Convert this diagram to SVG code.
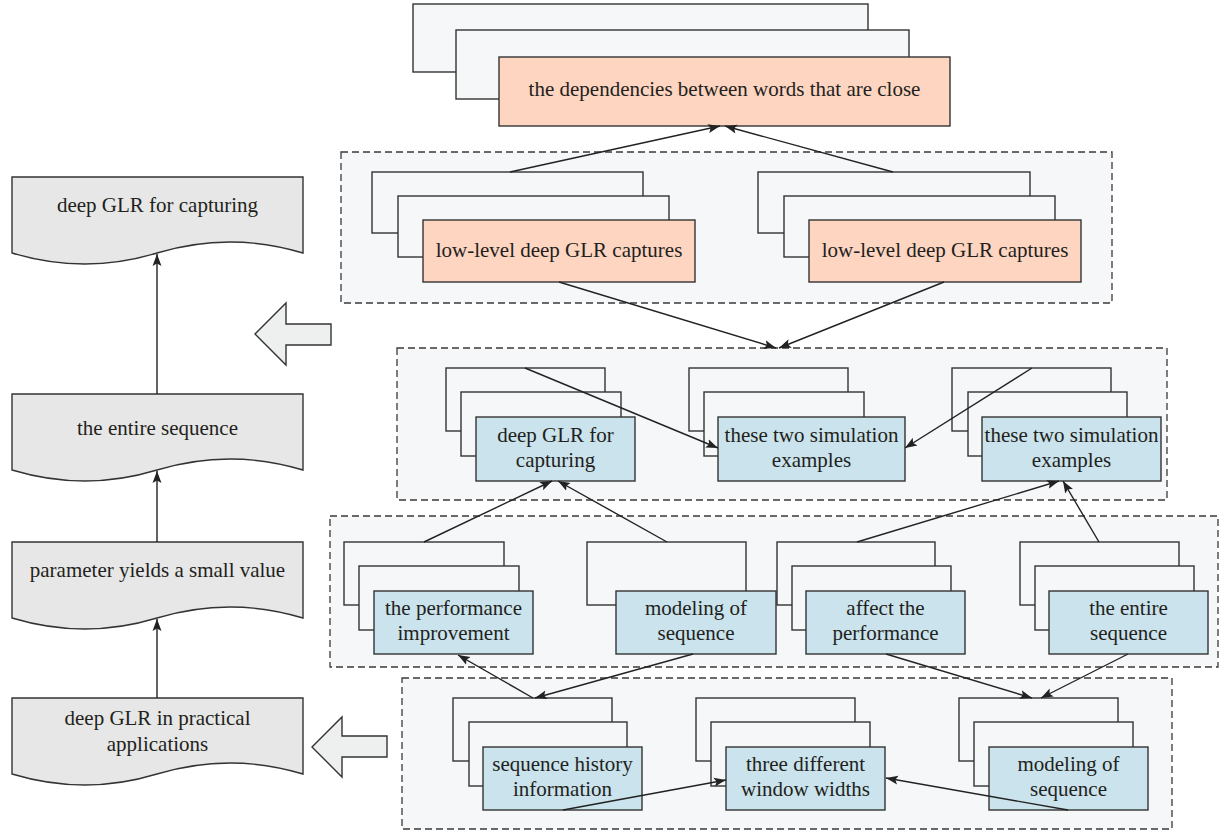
<svg xmlns="http://www.w3.org/2000/svg" width="1220" height="831" viewBox="0 0 1220 831">
<style>
.grp{fill:#f6f7f9;stroke:#3a3a3a;stroke-width:1.3;stroke-dasharray:7,4}
.bk{fill:#f6f7f9;stroke:#333;stroke-width:1.4}
.fs{fill:#fdd5c0;stroke:#333;stroke-width:1.4}
.fb{fill:#cae3ec;stroke:#333;stroke-width:1.4}
.doc{fill:#e6e7e6;stroke:#333;stroke-width:1.4}
.blk{fill:#eef0ef;stroke:#333;stroke-width:1.4}
.t{font-family:"Liberation Serif","Times New Roman",serif;font-size:21px;fill:#231f20;text-anchor:middle}
.c{fill:none;stroke:#222;stroke-width:1.4;marker-end:url(#ah)}
.cn{fill:none;stroke:#222;stroke-width:1.4}
</style>
<defs>
<marker id="ah" viewBox="0 0 12 10" refX="12" refY="5" markerWidth="12" markerHeight="10" markerUnits="userSpaceOnUse" orient="auto">
<path d="M0,0.5 L12,5 L0,9.5 L2.5,5 z" fill="#222"/>
</marker>
</defs>
<rect width="1220" height="831" fill="#fff"/>

<!-- dashed containers -->
<g id="groups">
<rect class="grp" x="341" y="152" width="771" height="151"/>
<rect class="grp" x="397" y="348" width="770" height="152"/>
<rect class="grp" x="330" y="516" width="888" height="151"/>
<rect class="grp" x="402" y="678" width="770" height="151"/>
</g>

<!-- top -->
<g id="top">
<rect class="bk" x="413" y="4" width="455" height="68"/>
<rect class="bk" x="456" y="30" width="453" height="69"/>
<rect class="fs" x="499" y="57" width="451" height="69"/>
<text class="t" x="724.5" y="96">the dependencies between words that are close</text>
</g>

<!-- row 1 -->
<g id="r1a">
<rect class="bk" x="372" y="172" width="271" height="61"/>
<rect class="bk" x="398" y="196" width="271" height="61"/>
<rect class="fs" x="423" y="220" width="272" height="62"/>
<text class="t" x="559" y="257">low-level deep GLR captures</text>
</g>
<g id="r1b">
<rect class="bk" x="758" y="172" width="272" height="61"/>
<rect class="bk" x="784" y="196" width="271" height="61"/>
<rect class="fs" x="809" y="220" width="272" height="62"/>
<text class="t" x="945" y="257">low-level deep GLR captures</text>
</g>

<!-- row 2 -->
<g id="r2a">
<rect class="bk" x="446" y="368" width="159" height="63"/>
<rect class="bk" x="461" y="392" width="160" height="64"/>
<rect class="fb" x="476" y="417" width="159" height="64"/>
<text class="t" x="555.5" y="441.5">deep GLR for</text>
<text class="t" x="555.5" y="466.5">capturing</text>
</g>
<g id="r2b">
<rect class="bk" x="689" y="368" width="159" height="63"/>
<rect class="bk" x="704" y="392" width="160" height="64"/>
<rect class="fb" x="718" y="417" width="187" height="64"/>
<text class="t" x="811.5" y="441.5">these two simulation</text>
<text class="t" x="811.5" y="466.5">examples</text>
</g>
<g id="r2c">
<rect class="bk" x="952" y="368" width="159" height="63"/>
<rect class="bk" x="968" y="392" width="159" height="64"/>
<rect class="fb" x="982" y="417" width="179" height="64"/>
<text class="t" x="1071.5" y="441.5">these two simulation</text>
<text class="t" x="1071.5" y="466.5">examples</text>
</g>

<!-- row 3 -->
<g id="r3a">
<rect class="bk" x="344" y="542" width="160" height="63"/>
<rect class="bk" x="359" y="566" width="160" height="64"/>
<rect class="fb" x="374" y="591" width="159" height="63"/>
<text class="t" x="453.5" y="615">the performance</text>
<text class="t" x="453.5" y="640">improvement</text>
</g>
<g id="r3b">
<rect class="bk" x="587" y="542" width="159" height="63"/>
<rect class="fb" x="616" y="591" width="160" height="63"/>
<text class="t" x="696" y="615">modeling of</text>
<text class="t" x="696" y="640">sequence</text>
</g>
<g id="r3c">
<rect class="bk" x="777" y="542" width="158" height="63"/>
<rect class="bk" x="792" y="566" width="159" height="64"/>
<rect class="fb" x="806" y="591" width="159" height="63"/>
<text class="t" x="885.5" y="615">affect the</text>
<text class="t" x="885.5" y="640">performance</text>
</g>
<g id="r3d">
<rect class="bk" x="1020" y="542" width="159" height="63"/>
<rect class="bk" x="1035" y="566" width="159" height="64"/>
<rect class="fb" x="1049" y="591" width="159" height="63"/>
<text class="t" x="1128.5" y="615">the entire</text>
<text class="t" x="1128.5" y="640">sequence</text>
</g>

<!-- row 4 -->
<g id="r4a">
<rect class="bk" x="453" y="698" width="159" height="63"/>
<rect class="bk" x="469" y="722" width="158" height="64"/>
<rect class="fb" x="483" y="747" width="159" height="63"/>
<text class="t" x="562.5" y="771">sequence history</text>
<text class="t" x="562.5" y="796">information</text>
</g>
<g id="r4b">
<rect class="bk" x="696" y="698" width="159" height="63"/>
<rect class="bk" x="711" y="722" width="159" height="64"/>
<rect class="fb" x="726" y="747" width="159" height="63"/>
<text class="t" x="805.5" y="771">three different</text>
<text class="t" x="805.5" y="796">window widths</text>
</g>
<g id="r4c">
<rect class="bk" x="959" y="698" width="159" height="63"/>
<rect class="bk" x="974" y="722" width="159" height="64"/>
<rect class="fb" x="989" y="747" width="159" height="63"/>
<text class="t" x="1068.5" y="771">modeling of</text>
<text class="t" x="1068.5" y="796">sequence</text>
</g>

<!-- left column documents -->
<g id="doc1">
<path class="doc" d="M12,177 H303 V253 Q230,231 157,253 Q85,275 12,253 Z"/>
<text class="t" x="157.5" y="212">deep GLR for capturing</text>
</g>
<g id="doc2">
<path class="doc" d="M12,394 H303 V470 Q230,448 157,470 Q85,492 12,470 Z"/>
<text class="t" x="157.5" y="435">the entire sequence</text>
</g>
<g id="doc3">
<path class="doc" d="M12,542 H303 V618 Q230,596 157,618 Q85,640 12,618 Z"/>
<text class="t" x="157.5" y="577">parameter yields a small value</text>
</g>
<g id="doc4">
<path class="doc" d="M12,698 H303 V774 Q230,752 157,774 Q85,796 12,774 Z"/>
<text class="t" x="157.5" y="725">deep GLR in practical</text>
<text class="t" x="157.5" y="751">applications</text>
</g>

<!-- block arrows -->
<g id="bigarrow1">
<polygon class="blk" points="255,334 286,303 286,324 331,324 331,345 286,345 286,365"/>
</g>
<g id="bigarrow2">
<polygon class="blk" points="312,747 342,717 342,736 387,736 387,757 342,757 342,777"/>
</g>

<!-- connectors -->
<g id="connectors">
<line class="c" x1="157" y1="394" x2="157" y2="254"/>
<line class="c" x1="157" y1="542" x2="157" y2="471"/>
<line class="c" x1="157" y1="698" x2="157" y2="619"/>

<line class="c" x1="510" y1="172" x2="720" y2="126"/>
<line class="c" x1="893" y1="172" x2="725" y2="126"/>

<line class="c" x1="559" y1="282" x2="776" y2="348"/>
<line class="c" x1="944" y1="282" x2="779" y2="348"/>

<line class="c" x1="525" y1="368" x2="718" y2="448"/>
<line class="c" x1="1032" y1="368" x2="905" y2="448"/>

<line class="c" x1="424" y1="542" x2="552" y2="481"/>
<line class="c" x1="667" y1="542" x2="558" y2="481"/>
<line class="c" x1="857" y1="542" x2="1059" y2="481"/>
<line class="c" x1="1099" y1="542" x2="1063" y2="481"/>

<line class="c" x1="693" y1="654" x2="535" y2="698"/>
<line class="c" x1="533" y1="698" x2="458" y2="655"/>
<line class="c" x1="886" y1="654" x2="1032" y2="698"/>
<line class="c" x1="1128" y1="654" x2="1041" y2="698"/>

<line class="c" x1="563" y1="810" x2="726" y2="780"/>
<line class="c" x1="1068" y1="810" x2="886" y2="778"/>
</g>
</svg>
